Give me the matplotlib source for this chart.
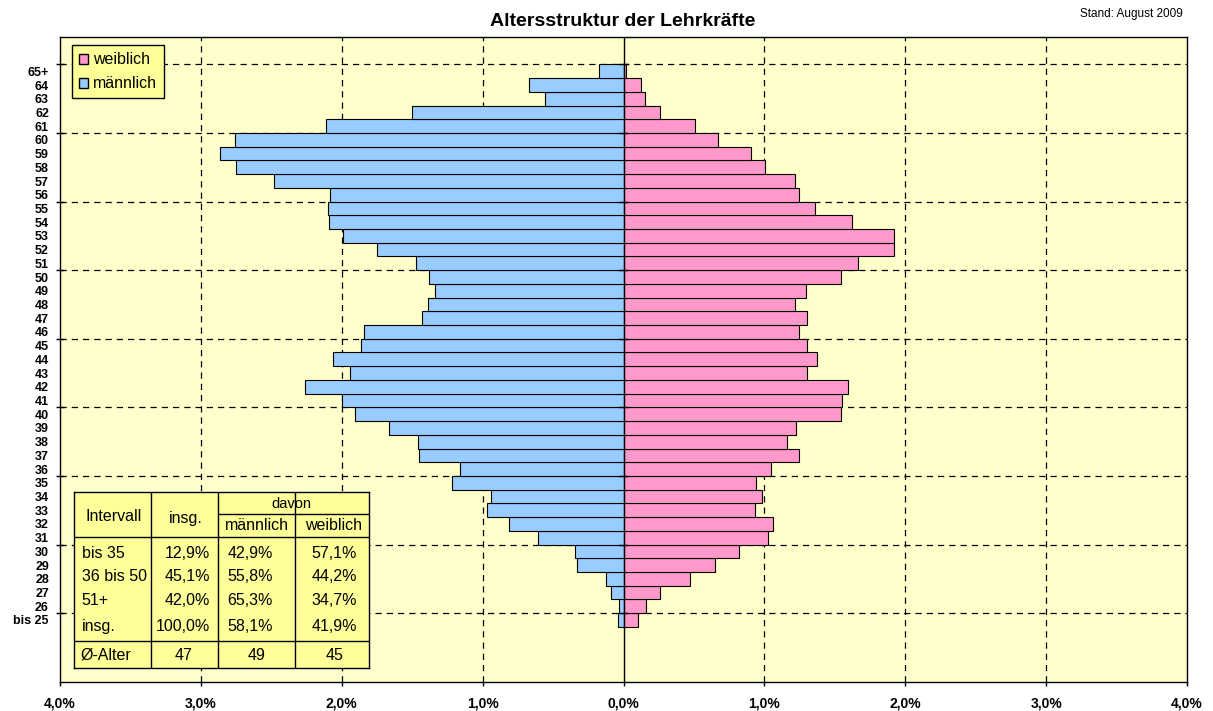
import matplotlib.pyplot as plt
from matplotlib.patches import Patch
import numpy as np

plt.rcParams['font.family'] = ['Liberation Sans', 'DejaVu Sans']

# age groups from bottom to top
ages = ['bis 25'] + [str(a) for a in range(26, 65)] + ['65+']

# share of all teachers in %, same order as ages
maennlich = [0.038, 0.035, 0.090, 0.125, 0.331, 0.343, 0.608, 0.811, 0.967, 0.941,
             1.218, 1.163, 1.449, 1.461, 1.662, 1.905, 1.995, 2.260, 1.940, 2.060,
             1.860, 1.839, 1.428, 1.388, 1.338, 1.383, 1.470, 1.750, 1.990, 2.087,
             2.100, 2.085, 2.480, 2.750, 2.863, 2.757, 2.110, 1.500, 0.560, 0.672,
             0.172]
weiblich = [0.104, 0.159, 0.258, 0.470, 0.648, 0.820, 1.024, 1.059, 0.931, 0.986,
            0.938, 1.045, 1.243, 1.158, 1.225, 1.541, 1.548, 1.596, 1.305, 1.371,
            1.306, 1.243, 1.300, 1.215, 1.298, 1.544, 1.662, 1.917, 1.917, 1.622,
            1.357, 1.246, 1.215, 1.005, 0.903, 0.669, 0.508, 0.262, 0.151, 0.123,
            0.021]

x_ticks = [-4, -3, -2, -1, 0, 1, 2, 3, 4]

# summary table
tab_intervalle = ['bis 35', '36 bis 50', '51+', 'insg.']
tab_insg = ['12,9%', '45,1%', '42,0%', '100,0%']
tab_maennlich = ['42,9%', '55,8%', '65,3%', '58,1%']
tab_weiblich = ['57,1%', '44,2%', '34,7%', '41,9%']
alter = ['47', '49', '45']

BLUE = '#99CCFF'
PINK = '#FF99CC'
W, H = 1213, 711

fig = plt.figure(figsize=(W / 100, H / 100), dpi=100)
ax = fig.add_axes([60 / W, (H - 681.7) / H, (1187 - 60) / W, (681.7 - 37) / H])
ax.set_facecolor('#FFFFCC')

pos = np.arange(len(ages))
ax.barh(pos, [-v for v in maennlich], height=1.0, color=BLUE, edgecolor='black',
        linewidth=0.8, zorder=3)
ax.barh(pos, weiblich, height=1.0, color=PINK, edgecolor='black',
        linewidth=0.8, zorder=3)

ax.set_xlim(-4, 4)
ax.set_ylim(-4.5, 42.5)

# grid
grid_y = np.arange(0.5, len(ages), 5)
dash = (0, (5, 4))
for g in grid_y:
    ax.axhline(g, color='black', lw=0.9, ls=dash, zorder=1)
for t in x_ticks:
    if t not in (-4, 0, 4):
        ax.axvline(t, color='black', lw=0.9, ls=dash, zorder=1)
ax.axvline(0, color='black', lw=1.0, zorder=4)
for g in grid_y:
    ax.plot([-0.03, 0.03], [g, g], color='black', lw=1.0, zorder=4)

# x axis
ax.set_xticks(x_ticks)
ax.set_xticklabels([f'{abs(t):.1f}%'.replace('.', ',') for t in x_ticks],
                   fontsize=10, fontweight='bold')
ax.tick_params(axis='x', direction='out', length=3, width=1, pad=8)

# y axis
ax.set_yticks(grid_y)
ax.set_yticklabels([])
ax.tick_params(axis='y', which='major', direction='inout', length=6, width=1)
ax.set_yticks(pos, minor=True)
ax.set_yticklabels(ages, minor=True, fontsize=9, fontweight='bold')
ax.tick_params(axis='y', which='minor', length=0, pad=8)

for s in ax.spines.values():
    s.set_color('black')
    s.set_linewidth(1.0)

# legend
handles = [Patch(facecolor=PINK, edgecolor='black', label='weiblich'),
           Patch(facecolor=BLUE, edgecolor='black', label='männlich')]
leg = ax.legend(handles=handles, loc='upper left',
                bbox_to_anchor=((71.7 - 60) / 1127, (681.7 - 45.3) / 644.7),
                borderaxespad=0, fontsize=11.5, handlelength=0.6, handleheight=0.6,
                handletextpad=0.3, borderpad=0.45, labelspacing=0.55,
                fancybox=False, framealpha=1, facecolor='#FFFF99', edgecolor='black')
leg.get_frame().set_linewidth(1.0)
leg.set_zorder(10)

# titles
fig.text(623 / W, 1 - 26 / H, 'Altersstruktur der Lehrkräfte', ha='center',
         va='baseline', fontsize=14, fontweight='bold')
fig.text(1183 / W, 1 - 17 / H, 'Stand: August 2009', ha='right', va='baseline',
         fontsize=8.5)

# table drawn in its own axes (pixel units)
tx0, ty0, tx1, ty1 = 74, 492.3, 369.3, 668.3
tw, th = tx1 - tx0, ty1 - ty0
tab = fig.add_axes([tx0 / W, (H - ty1) / H, tw / W, th / H])
tab.set_xlim(0, tw)
tab.set_ylim(th, 0)
tab.set_facecolor('#FFFF99')
tab.set_xticks([])
tab.set_yticks([])
for s in tab.spines.values():
    s.set_color('black')
    s.set_linewidth(1.0)

cols = [76.7, 144.3, 221.0]
for c in cols:
    tab.plot([c, c], [0, th], color='black', lw=1.0)
tab.plot([0, tw], [44.4, 44.4], color='black', lw=1.0)
tab.plot([cols[1], tw], [21.7, 21.7], color='black', lw=1.0)
tab.plot([0, tw], [148.4, 148.4], color='black', lw=1.0)

fs = 11.5
tab.text(39.3, 24.4, 'Intervall', ha='center', va='center', fontsize=fs)
tab.text(111.5, 25.7, 'insg.', ha='center', va='center', fontsize=fs)
tab.text(217.7, 12.0, 'davon', ha='center', va='center', fontsize=10.5)
tab.text(182.7, 33.4, 'männlich', ha='center', va='center', fontsize=fs)
tab.text(259.8, 33.4, 'weiblich', ha='center', va='center', fontsize=fs)

row_y = [61.0, 84.4, 108.5, 134.4]
for y, a, b, c, d in zip(row_y, tab_intervalle, tab_insg, tab_maennlich, tab_weiblich):
    tab.text(7.7, y, a, ha='left', va='center', fontsize=fs)
    tab.text(136.0, y, b, ha='right', va='center', fontsize=fs)
    tab.text(153.7, y, c, ha='left', va='center', fontsize=fs)
    tab.text(282.7, y, d, ha='right', va='center', fontsize=fs)

tab.text(6.0, 162.7, 'Ø-Alter', ha='left', va='center', fontsize=fs)
for x, v in zip([109.3, 182.7, 261.0], alter):
    tab.text(x, 162.7, v, ha='center', va='center', fontsize=fs)

fig.savefig('out.png', dpi=100, facecolor='white')
